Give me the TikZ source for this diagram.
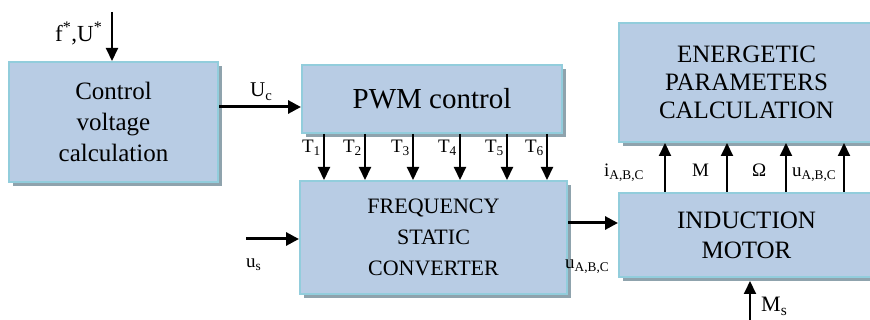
\documentclass[tikz,border=0pt]{standalone}
\usepackage{fontspec}
\setmainfont{Liberation Serif}
\usetikzlibrary{arrows.meta,shadows}
\definecolor{boxc}{HTML}{B8CCE4}
\definecolor{bordc}{HTML}{92CDDC}
\definecolor{shadc}{HTML}{8FA3AD}
\newcommand\fsz[2]{\fontsize{#1}{#2}\selectfont}
\begin{document}
\begin{tikzpicture}[x=1pt,y=-1pt,
  box/.style={draw=bordc, line width=2pt, fill=boxc, align=center, inner sep=0pt,
    drop shadow={shadow xshift=4pt, shadow yshift=-4pt, opacity=1, fill=shadc}},
  varr/.style={line width=2pt, -{Triangle[length=13pt,width=12pt]}},
  harr/.style={line width=3pt, -{Triangle[length=13pt,width=13pt]}},
  lbl/.style={inner sep=0pt, font=\fsz{19}{22}}]
\useasboundingbox (0,0) rectangle (870,320);
\fill[white] (0,0) rectangle (870,320);

% boxes
\node[box, font=\fsz{25}{31}, minimum width=209pt, minimum height=120pt] (cvc) at (113.5,122) {Control\\voltage\\calculation};
\node[box, font=\fsz{29}{33}, minimum width=260pt, minimum height=68pt] (pwm) at (432,99) {PWM control};
\node[box, font=\fsz{22}{31}, minimum width=267pt, minimum height=113pt] (fsc) at (433.5,237.5) {FREQUENCY\\STATIC\\CONVERTER};
\node[box, font=\fsz{25}{28}, minimum width=255pt, minimum height=119pt] (epc) at (746.5,82.5) {ENERGETIC\\PARAMETERS\\CALCULATION};
\node[box, font=\fsz{25}{30}, minimum width=255pt, minimum height=84pt] (im) at (746.5,235) {INDUCTION\\MOTOR};

% f*, U* input
\coordinate (fU) at (112,12);
\draw[varr] (fU) -- (fU |- cvc.north);
\node[lbl, font=\fsz{23}{26}, anchor=base west] (lf) at (55,42) {f\textsuperscript{*},U\textsuperscript{*}};

% Uc
\coordinate (ucy) at (0,107);
\draw[harr] (cvc.east |- ucy) -- (pwm.west |- ucy);
\node[lbl, font=\fsz{21}{24}, anchor=base west] (luc) at (250,97) {U\textsubscript{c}};

% T arrows
\foreach \x/\i in {324/1,365/2,413/3,460/4,507/5,547/6}{
  \coordinate (t\i) at (\x,0);
  \draw[varr] (t\i |- pwm.south) -- (t\i |- fsc.north);
  \node[lbl, anchor=base east] (lt\i) at (\x-3,153) {T\textsubscript{\i}};
}

% us
\coordinate (us) at (246,239);
\draw[harr] (us) -- (us -| fsc.west);
\node[lbl, anchor=base west] (lus) at (246,268) {u\textsubscript{s}};

% uABC
\coordinate (uy) at (0,223);
\draw[harr] (fsc.east |- uy) -- (im.west |- uy);
\node[lbl, anchor=base west] (luabc) at (565,269) {u\textsubscript{A,B,C}};

% motor outputs
\foreach \x/\n in {665/a,727/b,786/c,844/d}{
  \coordinate (o\n) at (\x,0);
  \draw[varr] (o\n |- im.north) -- (o\n |- epc.south);
}
\node[lbl, anchor=base west] (li) at (604,177) {i\textsubscript{A,B,C}};
\node[lbl, anchor=base west] (lm) at (692,177) {M};
\node[lbl, anchor=base west] (lo) at (752,177) {Ω};
\node[lbl, anchor=base west] (lu2) at (792,177) {u\textsubscript{A,B,C}};

% Ms
\coordinate (ms) at (750,322);
\draw[varr] (ms) -- ([yshift=-3pt]ms |- im.south);
\node[lbl, font=\fsz{22}{25}, anchor=base west] (lms) at (761,312) {M\textsubscript{s}};
\end{tikzpicture}
\end{document}
